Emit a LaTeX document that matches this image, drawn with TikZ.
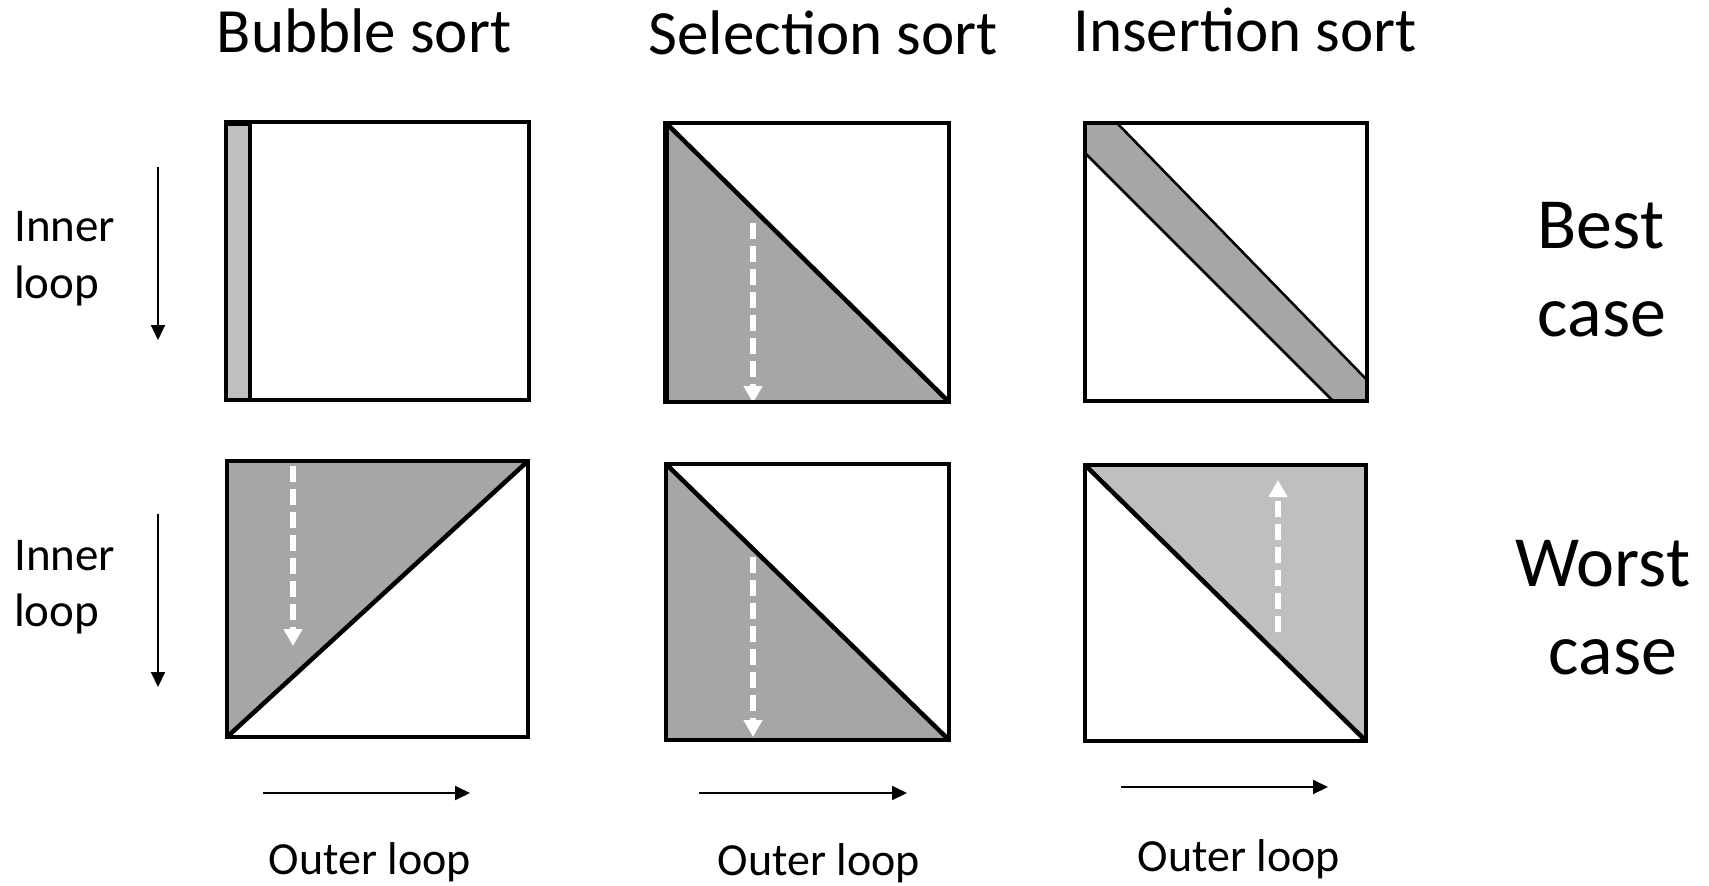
\documentclass[tikz,border=0pt]{standalone}
\usepackage{fontspec}
\setmainfont{Carlito}
\usetikzlibrary{arrows.meta}
\definecolor{gdark}{HTML}{A6A6A6}
\definecolor{glight}{HTML}{BFBFBF}
\tikzset{
  boxline/.style={line width=4.5pt},
  diagline/.style={line width=4.5pt},
  bandline/.style={line width=2.5pt},
  wdash/.style={white, line width=5.5pt, dash pattern=on 16pt off 7pt, -{Triangle[length=17pt,width=18pt]}},
  karrow/.style={line width=2pt, -{Triangle[length=15pt,width=14pt]}},
  title/.style={font=\fontsize{63}{70}\selectfont, anchor=base, inner sep=0pt},
  casetxt/.style={font=\fontsize{72}{80}\selectfont, anchor=base, inner sep=0pt},
  lab/.style={font=\fontsize{47}{52}\selectfont, anchor=base west, inner sep=0pt},
  olab/.style={font=\fontsize{46}{51}\selectfont, anchor=base, inner sep=0pt}
}
\begin{document}
\begin{tikzpicture}[x=1pt,y=-1pt]
\useasboundingbox (0,0) rectangle (1709,886);
% titles
\node[title] (t1) at (364,52) {Bubble sort};
\node[title] (t2) at (823,54) {Selection sort};
\node[title] (t3) at (1245,51) {Insertion sort};
% row labels
\node[casetxt] (best) at (1601,248) {Best};
\node[casetxt] (bcase) at (1602,336) {case};
\node[casetxt] (worst) at (1603,586) {Worst};
\node[casetxt] (wcase) at (1613,674) {case};
% inner loop labels
\node[lab] (in1) at (14,241) {Inner};
\node[lab] (lp1) at (14,298) {loop};
\node[lab] (in2) at (14,570) {Inner};
\node[lab] (lp2) at (14,626) {loop};
\coordinate (ia1) at (158,167);
\coordinate (ib1) at (158,340);
\coordinate (ia2) at (158,514);
\coordinate (ib2) at (158,687);
\draw[karrow] (ia1) -- (ib1);
\draw[karrow] (ia2) -- (ib2);
% outer loop
\coordinate (oa1) at (263,793);
\coordinate (ob1) at (470,793);
\coordinate (oa2) at (699,793);
\coordinate (ob2) at (907,793);
\coordinate (oa3) at (1121,787);
\coordinate (ob3) at (1328,787);
\draw[karrow] (oa1) -- (ob1);
\draw[karrow] (oa2) -- (ob2);
\draw[karrow] (oa3) -- (ob3);
\node[olab] (ol1) at (370,874) {Outer loop};
\node[olab] (ol2) at (819,875) {Outer loop};
\node[olab] (ol3) at (1239,871) {Outer loop};

% ---- Bubble best
\fill[glight] (226,122) rectangle (250,400);
\draw[boxline] (250,122) -- (250,400);
\draw[boxline] (226,122) rectangle (529,400);
\draw[line width=3pt] (226,124) -- (250,124);

% ---- Selection best
\fill[gdark] (666,123) -- (949,402) -- (666,402) -- cycle;
\coordinate (sa1) at (753,223);
\coordinate (sb1) at (753,403);
\draw[wdash] (sa1) -- (sb1);
\draw[diagline] (666,123) -- (949,402);
\draw[boxline] (666,123) rectangle (949,402);
\draw[line width=6pt] (666,121) -- (666,404);

% ---- Insertion best
\filldraw[fill=gdark, bandline] (1085,123) -- (1117,123) -- (1367,380) -- (1367,401) -- (1333,401) -- (1085,153) -- cycle;
\draw[boxline] (1085,123) rectangle (1367,401);
\draw[line width=3pt] (1085,123) -- (1085,153);

% ---- Bubble worst
\fill[gdark] (227,461) -- (528,461) -- (227,737) -- cycle;
\coordinate (sa2) at (293,466);
\coordinate (sb2) at (293,646);
\draw[wdash] (sa2) -- (sb2);
\draw[diagline] (227,737) -- (528,461);
\draw[boxline] (227,461) rectangle (528,737);

% ---- Selection worst
\fill[gdark] (666,464) -- (949,740) -- (666,740) -- cycle;
\coordinate (sa3) at (753,557);
\coordinate (sb3) at (753,737);
\draw[wdash] (sa3) -- (sb3);
\draw[diagline] (666,464) -- (949,740);
\draw[boxline] (666,464) rectangle (949,740);

% ---- Insertion worst
\fill[glight] (1085,465) -- (1366,465) -- (1366,741) -- cycle;
\coordinate (sa4) at (1278,632);
\coordinate (sb4) at (1278,480);
\draw[wdash] (sa4) -- (sb4);
\draw[diagline] (1085,465) -- (1366,741);
\draw[boxline] (1085,465) rectangle (1366,741);
\end{tikzpicture}
\end{document}
